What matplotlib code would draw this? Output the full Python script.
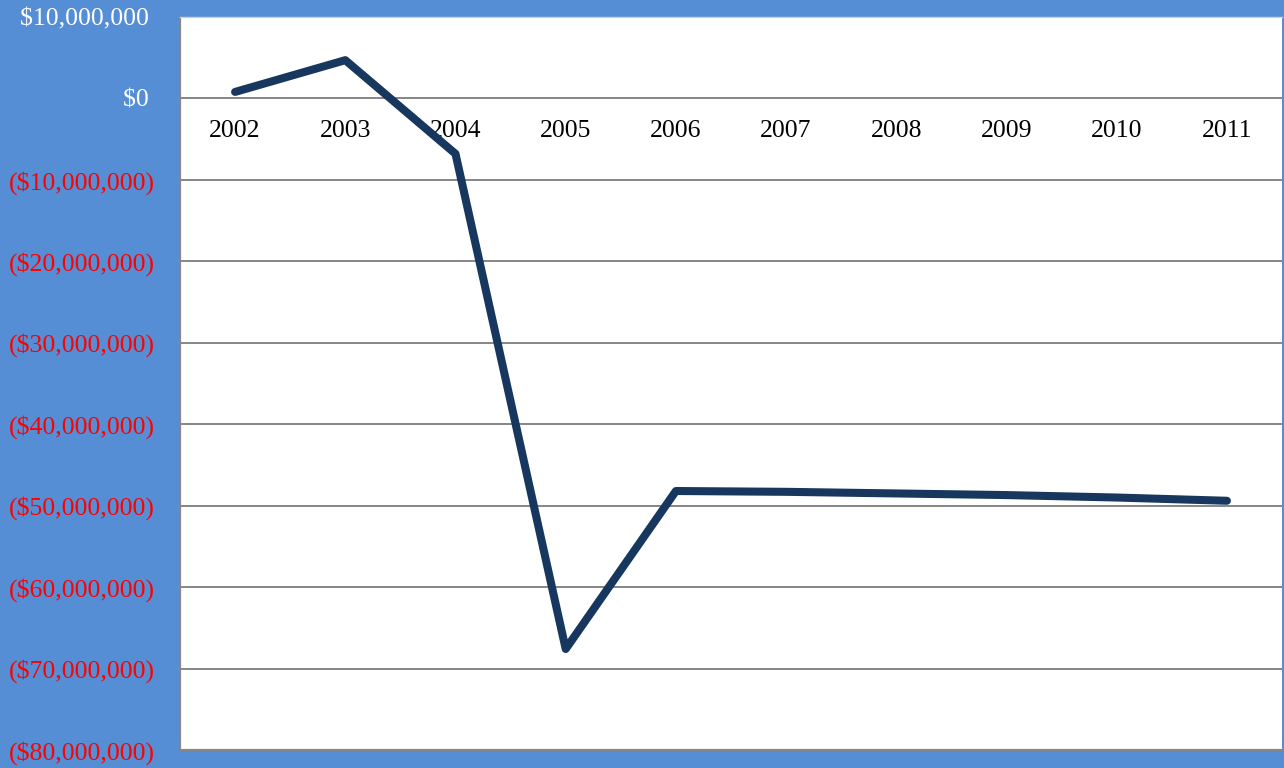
import matplotlib
matplotlib.use("Agg")
import matplotlib.pyplot as plt
from matplotlib.ticker import FixedLocator

years = ["2002", "2003", "2004", "2005", "2006", "2007", "2008", "2009", "2010", "2011"]
net_values = [0.8e6, 4.7e6, -6.8e6, -67.6e6, -48.2e6, -48.3e6, -48.5e6, -48.7e6, -49.0e6, -49.4e6]
y_ticks = [10e6, 0, -10e6, -20e6, -30e6, -40e6, -50e6, -60e6, -70e6, -80e6]

BG = "#558ED5"
LINE = "#17375E"
GRID = "#868686"
FS = 18.5

plt.rcParams["font.family"] = ["Liberation Serif", "DejaVu Serif"]

fig = plt.figure(figsize=(12.84, 7.68), dpi=100, facecolor=BG)
ax = fig.add_axes([180 / 1284, 1 - 750 / 768, (1282 - 180) / 1284, (750 - 17) / 768])
ax.set_facecolor("white")

x = [i + 0.5 for i in range(len(years))]
ax.plot(x, net_values, color=LINE, lw=5.8, solid_capstyle="round",
        solid_joinstyle="round", zorder=3)

ax.set_xlim(0, len(years))
ax.set_ylim(-80e6, 10e6)
ax.yaxis.set_major_locator(FixedLocator(y_ticks))
ax.set_xticks([])

for v in y_ticks:
    if -80e6 < v < 10e6:
        ax.axhline(v, color=GRID, lw=1.4, zorder=1)


def money(v):
    # accounting style: negatives in parentheses, positives padded for alignment
    if v < 0:
        return "(${:,.0f})".format(-v)
    return "${:,.0f} ".format(v)


ax.set_yticklabels([money(v) for v in y_ticks])
for lbl, v in zip(ax.get_yticklabels(), y_ticks):
    lbl.set_color("red" if v < 0 else "white")
    lbl.set_fontsize(FS)
ax.tick_params(axis="y", length=0, pad=18)

# category labels sit just below the zero line
for xi, yr in zip(x, years):
    ax.text(xi, -4e6, yr, ha="center", va="center", fontsize=FS, color="black", zorder=2)

for side in ["left", "bottom"]:
    ax.spines[side].set_color(GRID)
    ax.spines[side].set_linewidth(1.6)
ax.spines["top"].set_color("#d0d0d0")
ax.spines["top"].set_linewidth(1.0)
ax.spines["right"].set_visible(False)

fig.savefig("out.png", dpi=100, facecolor=BG)
